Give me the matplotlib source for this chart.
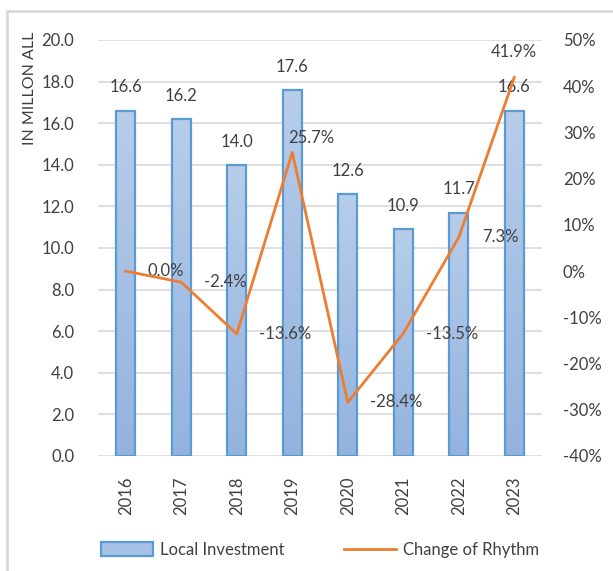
import numpy as np
import matplotlib
matplotlib.use('Agg')
import matplotlib.pyplot as plt
from matplotlib.colors import LinearSegmentedColormap
from matplotlib.patches import Rectangle
from matplotlib.ticker import PercentFormatter

years = ['2016', '2017', '2018', '2019', '2020', '2021', '2022', '2023']
investment = [16.6, 16.2, 14.0, 17.6, 12.6, 10.9, 11.7, 16.6]
rhythm = [0.0, -2.4, -13.6, 25.7, -28.4, -13.5, 7.3, 41.9]
# where Excel dropped each percent label (offset points from the point)
rhythm_label_offsets = [(29, 0), (32, 0), (35, 0), (14, 10), (35, 0), (35, 0), (30, 0), (0, 18)]

plt.rcParams['font.family'] = ['Lato', 'DejaVu Sans']
plt.rcParams['axes.unicode_minus'] = False
text_color = '#404040'
grid_color = '#d9d9d9'

fig = plt.figure(figsize=(6.13, 5.71), dpi=100)
ax = fig.add_axes([98 / 613, 1 - 456 / 571, 444 / 613, 416 / 571])

x = np.arange(len(years))
bars = ax.bar(x, investment, width=0.34, color='none', edgecolor='#5b9bd5', linewidth=1.6, zorder=3)

# light-to-darker blue gradient inside each bar
grad_cmap = LinearSegmentedColormap.from_list('barfill', ['#93b3de', '#b7cdea'])
gradient = np.linspace(0, 1, 256).reshape(-1, 1)
for b in bars:
    im = ax.imshow(gradient, extent=[b.get_x(), b.get_x() + b.get_width(), 0, b.get_height()],
                   origin='lower', aspect='auto', cmap=grad_cmap, zorder=2)
    im.set_clip_path(b)

for xi, v in zip(x, investment):
    ax.annotate(f'{v:.1f}', (xi, v), xytext=(0, 11), textcoords='offset points',
                ha='center', va='bottom', fontsize=12, color=text_color, zorder=4)

ax.set_xlim(-0.5, len(years) - 0.5)
ax.set_ylim(0, 20)
ax.set_yticks(np.arange(0, 20.1, 2))
ax.yaxis.set_major_formatter(lambda v, p: f'{v:.1f}')
ax.set_xticks(x)
ax.set_xticklabels(years, rotation=90)
ax.grid(axis='y', color=grid_color, linewidth=1.2, zorder=0)
ax.set_axisbelow(True)
for s in ax.spines.values():
    s.set_visible(False)
ax.tick_params(axis='both', length=0, labelsize=12, colors=text_color)
ax.tick_params(axis='y', pad=17)
ax.tick_params(axis='x', pad=15)

ax2 = ax.twinx()
ax2.plot(x, rhythm, color='#ed7d31', linewidth=2, zorder=5, label='Change of Rhythm')
ax2.set_ylim(-40, 50)
ax2.set_yticks(np.arange(-40, 51, 10))
ax2.yaxis.set_major_formatter(PercentFormatter(decimals=0))
for s in ax2.spines.values():
    s.set_visible(False)
ax2.tick_params(axis='y', length=0, labelsize=12, colors=text_color, pad=15)

for xi, v, off in zip(x, rhythm, rhythm_label_offsets):
    ax2.annotate(f'{v:.1f}%', (xi, v), xytext=off, textcoords='offset points',
                 ha='center', va='center', fontsize=12, color=text_color)

fig.text(30 / 613, 1 - 88 / 571, 'IN MILLON ALL', rotation=90, ha='center', va='center',
         fontsize=11.5, color=text_color)

# legend
handles = [Rectangle((0, 0), 1, 1, facecolor='#a7c1e4', edgecolor='#5b9bd5', linewidth=1.6),
           ax2.get_lines()[0]]
fig.legend(handles, ['Local Investment', 'Change of Rhythm'], loc='center',
           bbox_to_anchor=(320 / 613, 1 - 550 / 571), ncol=2, frameon=False,
           fontsize=12, labelcolor=text_color, handlelength=3.1, handleheight=0.9,
           columnspacing=3.6, handletextpad=0.4)

# chart frame
fig.patches.append(Rectangle((7 / 613, -0.05), 1.1, 1 - 11 / 571 + 0.05, transform=fig.transFigure,
                             fill=False, edgecolor='#d9d9d9', linewidth=2))

fig.savefig('out.png', dpi=100)
